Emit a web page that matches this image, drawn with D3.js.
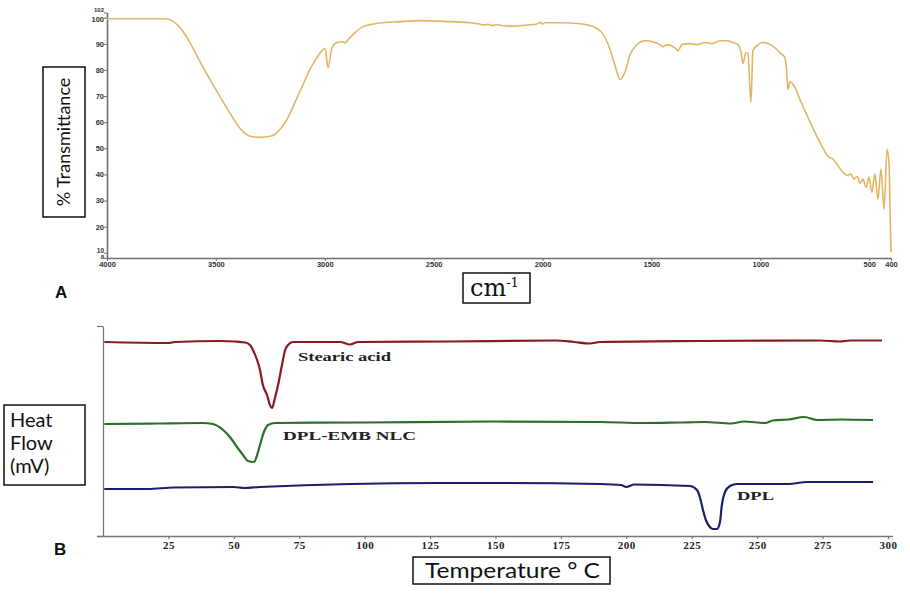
<!DOCTYPE html>
<html><head><meta charset="utf-8">
<script src="https://cdn.jsdelivr.net/npm/d3@7"></script>
<style>html,body{margin:0;padding:0;background:#fff;}svg{display:block;}</style>
</head><body>
<svg id="c" width="910" height="593"></svg>
<script>
// ---------- Data: FTIR spectrum (panel A) ----------
const irWavenumber = [4000,3734,3702,3665,3619,3573,3527,3481,3435,3389,3366,3343,3297,3252,3229,3206,3173,3137,3100,3068,3036,3013,2999,2985,2967,2944,2921,2905,2893,2861,2824,2769,2655,2563,2425,2333,2290,2270,2250,2230,2210,2190,2149,2058,2030,2010,2000,1989,1920,1828,1768,1727,1690,1667,1644,1621,1598,1566,1530,1493,1461,1447,1429,1392,1378,1360,1323,1291,1254,1222,1185,1153,1126,1103,1089,1080,1066,1057,1043,1034,1015,992,965,933,910,887,880,873,864,850,841,818,781,749,717,689,666,648,625,602,584,570,556,542,529,515,501,488,474,460,446,432,418,409,404,400];
const irTransmittance = [99.6,99.6,98.9,96.2,90.5,83.2,76.3,69.8,63.4,57.6,55.7,54.6,54.2,54.6,55.3,57.2,61.1,67.6,74.4,80.2,84.7,87.4,88.2,80.9,88.5,90.5,90.8,90.4,91.6,94.3,96.6,97.7,98.5,98.9,98.5,98.1,97.6,97.2,97.5,97.0,97.4,97.0,96.8,97.3,97.5,98.2,97.6,98.1,98.1,97.7,96.6,94.3,87.8,81.7,76.3,79.4,85.9,89.7,91.2,90.8,89.7,88.9,89.7,88.5,87.4,89.7,90.1,89.7,90.5,90.1,91.2,91.2,90.5,89.7,87.0,82.5,86.6,86.2,67.6,87.4,89.3,90.5,90.1,88.5,86.6,84.7,80.2,72.5,75.6,74.5,73.3,68.7,61.8,56.1,50.8,46.9,45.8,43.9,41.2,39.7,40.1,38.2,39.3,36.6,38.2,35.1,38.9,33.2,40.1,30.5,42.0,26.7,49.6,43.9,25.0,10.3];
const irXTicks = [4000,3500,3000,2500,2000,1500,1000,500,400];
const irYTicks = [102,100,90,80,70,60,50,40,30,20,10,8];

// ---------- Data: DSC thermograms (panel B) ----------
const stearicTemp = [0.5,25,27.5,44.7,50.4,54.3,56.2,57.3,58.9,60.0,61.1,62.7,63.8,64.6,65.7,66.9,68.4,69.6,70.7,72.6,90.6,94.4,97.5,132.6,173,180,186,190,228,274,281.6,285.5,297.7];
const stearicFlow = [1.94,1.93,1.94,1.95,1.945,1.935,1.91,1.86,1.76,1.66,1.51,1.41,1.31,1.28,1.38,1.51,1.71,1.86,1.91,1.94,1.94,1.915,1.94,1.945,1.955,1.94,1.925,1.94,1.95,1.955,1.945,1.955,1.955];
const nlcTemp = [0.5,20,38,42,45.9,48.5,51.2,53.5,55.4,57.7,58.9,60.0,61.5,63.1,65.7,100,150,190,207,220,230,240,245,253,256,262,268,273,282,294.3];
const nlcFlow = [1.12,1.125,1.13,1.12,1.06,0.99,0.89,0.81,0.75,0.74,0.81,0.91,1.04,1.11,1.13,1.135,1.145,1.14,1.13,1.135,1.14,1.125,1.145,1.13,1.155,1.165,1.19,1.16,1.165,1.16];
const dplTemp = [0.5,17,27,50,54,60,128.8,155,190,198,200,203,224.3,227,228.2,229.3,230.4,231.6,233.1,234.6,235.8,236.5,237.7,239.6,242.3,262,269,294.3];
const dplFlow = [0.47,0.47,0.485,0.49,0.48,0.49,0.53,0.53,0.52,0.51,0.49,0.515,0.50,0.46,0.38,0.26,0.16,0.10,0.07,0.07,0.14,0.31,0.44,0.50,0.52,0.52,0.54,0.54];
const dscXTicks = [25,50,75,100,125,150,175,200,225,250,275,300];
const dscLabels = ["Stearic acid","DPL-EMB NLC","DPL"];

const svg = d3.select("#c");

// ================= Panel A =================
const xA = d3.scaleLinear().domain([4000,400]).range([107,891]);
const yA = d3.scaleLinear().domain([8,102]).range([258,12.5]);

const axA = svg.append("g").attr("transform","translate(0,258)")
  .call(d3.axisBottom(xA).tickValues(irXTicks).tickSize(3).tickSizeOuter(0).tickFormat(d3.format("d")));
const ayA = svg.append("g").attr("transform","translate(107,0)")
  .call(d3.axisLeft(yA).tickValues(irYTicks).tickSize(3).tickSizeOuter(0).tickFormat(d3.format("d")));
[axA, ayA].forEach(g=>{
  g.select(".domain").attr("stroke","#6f6f6f").attr("stroke-width",1.6);
  g.selectAll(".tick line").attr("stroke","#6f6f6f");
  g.selectAll(".tick text").attr("fill","#333").style("font-family","Liberation Sans, Arial, sans-serif")
    .style("font-size","7.5px").style("font-weight","bold");
});
axA.selectAll(".tick text").attr("dy","0.55em").attr("y",4.5);
ayA.selectAll(".tick text").attr("x",-3);
// squeezed end labels (102 above 100, 8 below 10) as in the original
ayA.selectAll(".tick text").filter(d=>d===102).style("font-size","6px").attr("dy","-0.15em");
ayA.selectAll(".tick text").filter(d=>d===100).attr("dy","0.5em");
ayA.selectAll(".tick text").filter(d=>d===10).style("font-size","6.5px").attr("dy","-0.1em");
ayA.selectAll(".tick text").filter(d=>d===8).style("font-size","6px").attr("dy","0.05em");

const irLine = d3.line().x((d,i)=>xA(irWavenumber[i])).y(d=>yA(d)).curve(d3.curveMonotoneX);
svg.append("path").datum(irTransmittance).attr("d",irLine)
  .attr("fill","none").attr("stroke","#e3b563").attr("stroke-width",1.6);

// y-label box
svg.append("rect").attr("x",43).attr("y",67).attr("width",42).attr("height",150)
  .attr("fill","none").attr("stroke","#111").attr("stroke-width",1.5);
svg.append("text").attr("transform","translate(70,142) rotate(-90)").attr("text-anchor","middle")
  .style("font-family","Lato, 'Open Sans', sans-serif").style("font-size","18px").attr("fill","#111")
  .text("% Transmittance");

// x-label box cm-1
svg.append("rect").attr("x",463).attr("y",273).attr("width",67).attr("height",30)
  .attr("fill","none").attr("stroke","#111").attr("stroke-width",1.5);
const cm = svg.append("text").attr("x",470).attr("y",296)
  .style("font-family","'DejaVu Serif', serif").style("font-size","24px").attr("fill","#111");
cm.append("tspan").text("cm");
cm.append("tspan").attr("dy",-9).style("font-size","13px").text("-1");

svg.append("text").attr("x",55).attr("y",298).style("font-family","Liberation Sans, Arial, sans-serif")
  .style("font-size","17px").style("font-weight","bold").attr("fill","#111").text("A");

// ================= Panel B =================
const xB = d3.scaleLinear().domain([0,300]).range([103,888]);
const yB = d3.scaleLinear().domain([0,2.1]).range([536,326]);

const axB = svg.append("g").attr("transform","translate(0,536)")
  .call(d3.axisBottom(xB).tickValues(dscXTicks).tickSize(3).tickSizeOuter(0));
axB.select(".domain").attr("d","M97,0.5H893");
const ayB = svg.append("g").attr("transform","translate(103,0)")
  .call(d3.axisLeft(yB).tickValues([0,2.1]).tickSize(6).tickSizeOuter(0).tickFormat(""));
[axB, ayB].forEach(g=>{
  g.select(".domain").attr("stroke","#777").attr("stroke-width",1.3);
  g.selectAll(".tick line").attr("stroke","#777").attr("stroke-width",1.2);
});
axB.selectAll(".tick text").attr("fill","#222").attr("y",5)
  .style("font-family","'Liberation Serif', 'DejaVu Serif', serif").style("font-size","11px").style("font-weight","bold")
  .style("letter-spacing","0.5px");

const dscSeries = [
  {t:stearicTemp, v:stearicFlow, color:"#8b1a1f"},
  {t:nlcTemp, v:nlcFlow, color:"#2a6f2a"},
  {t:dplTemp, v:dplFlow, color:"#1c1f6b"}
];
dscSeries.forEach(s=>{
  const ln = d3.line().x((d,i)=>xB(s.t[i])).y(d=>yB(d)).curve(d3.curveMonotoneX);
  svg.append("path").datum(s.v).attr("d",ln).attr("fill","none")
    .attr("stroke",s.color).attr("stroke-width",2.2).attr("stroke-linejoin","round");
});

// series labels (placed near their peaks)
const labelPos = [[74.5,1.75],[68.8,0.96],[242.3,0.36]];
const labelLen = [93,133,37];
dscLabels.forEach((t,i)=>{
  svg.append("text").attr("x",xB(labelPos[i][0])).attr("y",yB(labelPos[i][1]))
    .style("font-family","'Liberation Serif', 'DejaVu Serif', serif").style("font-size","12.5px")
    .style("font-weight","bold").attr("fill","#222")
    .attr("textLength",labelLen[i]).attr("lengthAdjust","spacingAndGlyphs").text(t);
});

// Heat Flow box
svg.append("rect").attr("x",4).attr("y",405).attr("width",81).attr("height",80)
  .attr("fill","none").attr("stroke","#111").attr("stroke-width",1.5);
["Heat","Flow","(mV)"].forEach((t,i)=>{
  svg.append("text").attr("x",10).attr("y",427+i*23)
    .style("font-family","Lato, 'Open Sans', sans-serif").style("font-size","20px").attr("fill","#111").text(t);
});

// Temperature box
svg.append("rect").attr("x",413).attr("y",557).attr("width",197).attr("height",27)
  .attr("fill","none").attr("stroke","#111").attr("stroke-width",1.5);
svg.append("text").attr("x",425).attr("y",578)
  .style("font-family","Lato, 'Open Sans', sans-serif").style("font-size","21px").attr("fill","#111")
  .attr("textLength",175).attr("lengthAdjust","spacingAndGlyphs")
  .text("Temperature ° C");

svg.append("text").attr("x",54).attr("y",555).style("font-family","Liberation Sans, Arial, sans-serif")
  .style("font-size","17px").style("font-weight","bold").attr("fill","#111").text("B");
</script>
</body></html>
